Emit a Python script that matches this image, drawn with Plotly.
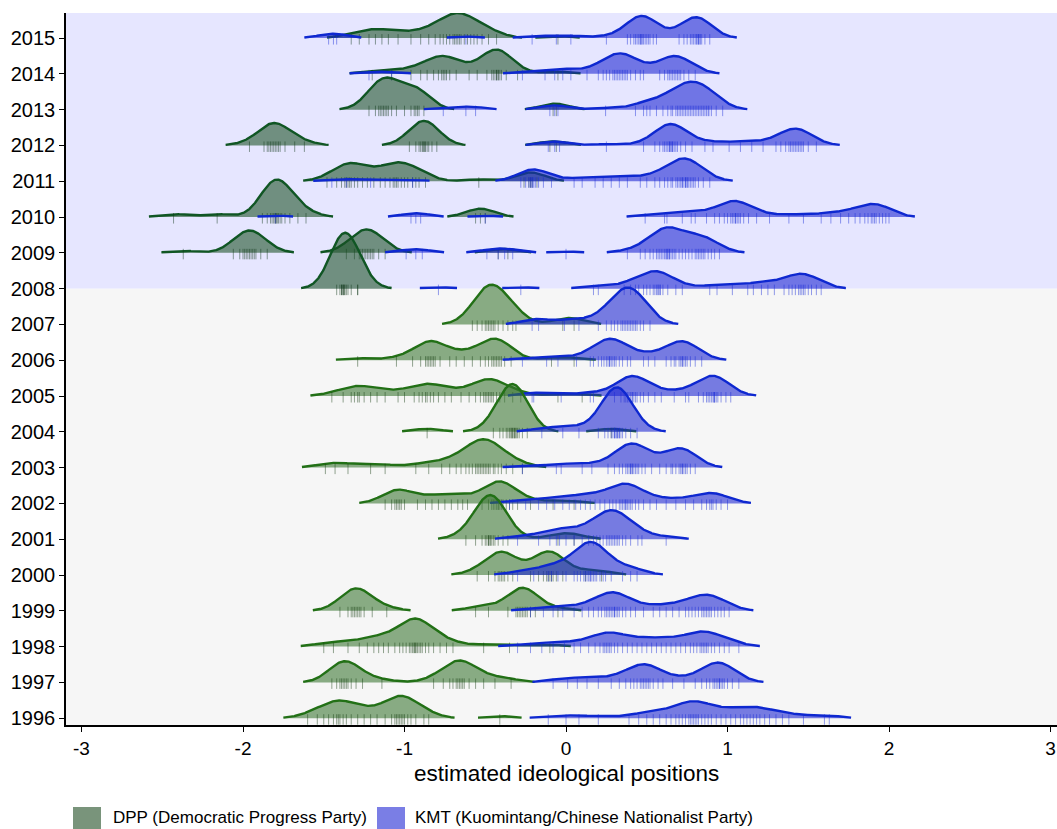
import numpy as np
import plotly.graph_objects as go

# Estimated ideological positions of individual legislators, by year and party
YEARS = list(range(1996, 2016))

dpp_positions = {
    2015: [-1.33, -1.28, -1.22, -1.18, -1.14, -1.10, -1.04, -0.96, -0.90, -0.85, -0.81, -0.78, -0.76,
           -0.74, -0.72, -0.70, -0.69, -0.68, -0.67, -0.66, -0.65, -0.63, -0.61, -0.59, -0.57, -0.55,
           -0.52, -0.48, -0.43, -0.05],
    2014: [-1.20, -1.08, -0.96, -0.90, -0.86, -0.82, -0.79, -0.77, -0.76, -0.75, -0.74, -0.72, -0.68,
           -0.60, -0.55, -0.49, -0.46, -0.45, -0.44, -0.43, -0.43, -0.42, -0.42, -0.41, -0.40, -0.37,
           -0.30, -0.05],
    2013: [-1.22, -1.18, -1.16, -1.15, -1.14, -1.13, -1.12, -1.11, -1.10, -1.08, -1.05, -1.00, -0.96,
           -0.94, -0.93, -0.92, -0.91, -0.88, -0.08, -0.06],
    2012: [-1.96, -1.87, -1.85, -1.84, -1.83, -1.82, -1.81, -1.80, -1.79, -1.78, -1.77, -1.74, -1.68,
           -1.62, -0.97, -0.93, -0.91, -0.90, -0.89, -0.885, -0.88, -0.875, -0.87, -0.86, -0.85, -0.83,
           -0.80, -0.10, -0.06],
    2011: [-1.48, -1.42, -1.39, -1.37, -1.36, -1.35, -1.34, -1.33, -1.31, -1.29, -1.26, -1.23, -1.19,
           -1.15, -1.12, -1.09, -1.07, -1.06, -1.05, -1.04, -1.02, -1.00, -0.98, -0.95, -0.93, -0.91,
           -0.87, -0.54, -0.26, -0.23, -0.22, -0.21, -0.18],
    2010: [-2.43, -2.16, -1.88, -1.85, -1.83, -1.82, -1.81, -1.80, -1.80, -1.79, -1.79, -1.78, -1.77,
           -1.76, -1.74, -1.71, -1.66, -1.61, -0.56, -0.53, -0.50],
    2009: [-2.37, -2.06, -2.02, -2.00, -1.99, -1.98, -1.97, -1.96, -1.95, -1.94, -1.93, -1.92, -1.89,
           -1.85, -1.36, -1.31, -1.28, -1.27, -1.26, -1.25, -1.24, -1.23, -1.22, -1.21, -1.20, -1.19,
           -1.16, -1.12, -0.42, -0.36],
    2008: [-1.42, -1.40, -1.39, -1.39, -1.38, -1.38, -1.38, -1.37, -1.37, -1.36, -1.35, -1.33, -1.29,
           -1.29],
    2007: [-0.58, -0.55, -0.52, -0.50, -0.49, -0.48, -0.47, -0.46, -0.45, -0.44, -0.42, -0.39, -0.36,
           -0.33, -0.31, -0.02, 0.05],
    2006: [-1.29, -1.05, -0.95, -0.90, -0.87, -0.86, -0.85, -0.84, -0.83, -0.82, -0.81, -0.78, -0.72,
           -0.68, -0.63, -0.58, -0.53, -0.50, -0.48, -0.46, -0.45, -0.44, -0.43, -0.42, -0.41, -0.40,
           -0.38, -0.34, -0.09, 0.05],
    2005: [-1.45, -1.38, -1.33, -1.31, -1.29, -1.28, -1.25, -1.21, -1.17, -1.12, -1.04, -1.00, -0.94,
           -0.91, -0.89, -0.87, -0.86, -0.84, -0.82, -0.79, -0.75, -0.71, -0.65, -0.60, -0.56, -0.53,
           -0.51, -0.50, -0.49, -0.48, -0.47, -0.46, -0.45, -0.43, -0.41, -0.38, -0.33, -0.28, -0.05,
           0.10],
    2004: [-0.86, -0.45, -0.41, -0.39, -0.37, -0.36, -0.35, -0.34, -0.34, -0.33, -0.33, -0.32, -0.32,
           -0.31, -0.31, -0.30, -0.29, -0.27, -0.24, 0.28],
    2003: [-1.49, -1.43, -1.35, -1.21, -1.12, -0.93, -0.85, -0.77, -0.72, -0.68, -0.65, -0.62, -0.60,
           -0.58, -0.56, -0.55, -0.54, -0.53, -0.52, -0.51, -0.50, -0.49, -0.48, -0.47, -0.45, -0.44,
           -0.42, -0.40, -0.37, -0.33, -0.27],
    2002: [-1.12, -1.08, -1.06, -1.05, -1.04, -1.03, -1.02, -1.00, -0.92, -0.87, -0.83, -0.79, -0.75,
           -0.71, -0.67, -0.64, -0.61, -0.52, -0.48, -0.46, -0.45, -0.44, -0.43, -0.42, -0.42, -0.41,
           -0.40, -0.39, -0.37, -0.35, -0.33, -0.30, -0.22, -0.08, 0.05],
    2001: [-0.62, -0.56, -0.52, -0.50, -0.49, -0.48, -0.48, -0.47, -0.47, -0.46, -0.45, -0.44, -0.42,
           -0.39, -0.36, -0.05, 0.05],
    2000: [-0.55, -0.48, -0.44, -0.42, -0.41, -0.40, -0.39, -0.38, -0.36, -0.33, -0.22, -0.17, -0.14,
           -0.12, -0.11, -0.10, -0.09, -0.08, -0.06, -0.02, 0.12, 0.22],
    1999: [-1.40, -1.35, -1.33, -1.32, -1.31, -1.30, -1.29, -1.28, -1.27, -1.25, -1.20, -1.11, -0.56,
           -0.48, -0.36, -0.31, -0.30, -0.29, -0.28, -0.27, -0.26, -0.25, -0.24, -0.22, -0.19, -0.05],
    1998: [-1.50, -1.44, -1.35, -1.28, -1.23, -1.19, -1.16, -1.13, -1.10, -1.06, -1.03, -1.01, -0.99,
           -0.97, -0.96, -0.95, -0.94, -0.94, -0.93, -0.93, -0.92, -0.91, -0.90, -0.89, -0.87, -0.85,
           -0.82, -0.78, -0.74, -0.70, -0.51, -0.35, -0.10],
    1997: [-1.45, -1.42, -1.40, -1.39, -1.38, -1.37, -1.36, -1.35, -1.33, -1.30, -1.26, -1.14, -0.82,
           -0.76, -0.72, -0.70, -0.68, -0.67, -0.66, -0.65, -0.64, -0.63, -0.60, -0.56, -0.51, -0.44,
           -0.34],
    1996: [-1.60, -1.54, -1.50, -1.47, -1.44, -1.42, -1.41, -1.40, -1.38, -1.36, -1.33, -1.29, -1.25,
           -1.21, -1.17, -1.12, -1.08, -1.06, -1.05, -1.04, -1.03, -1.02, -1.01, -1.00, -0.98, -0.96,
           -0.93, -0.88, -0.85, -0.41],
}

kmt_positions = {
    2015: [-1.47, -1.44, -1.42, -0.62, -0.21, -0.06, 0.03, 0.25, 0.38, 0.40, 0.42, 0.43, 0.44, 0.45,
           0.46, 0.46, 0.47, 0.47, 0.48, 0.49, 0.50, 0.51, 0.52, 0.54, 0.56, 0.70, 0.73, 0.75, 0.77,
           0.78, 0.79, 0.80, 0.81, 0.81, 0.82, 0.82, 0.83, 0.83, 0.84, 0.86, 0.89],
    2014: [-1.22, -1.08, -0.27, -0.13, -0.07, -0.02, 0.03, 0.13, 0.20, 0.23, 0.25, 0.27, 0.29, 0.30,
           0.31, 0.32, 0.33, 0.34, 0.35, 0.36, 0.37, 0.38, 0.40, 0.43, 0.46, 0.48, 0.58, 0.61, 0.63,
           0.64, 0.65, 0.66, 0.67, 0.68, 0.69, 0.70, 0.71, 0.73, 0.76, 0.80],
    2013: [-0.76, -0.62, -0.56, -0.10, -0.07, -0.05, 0.245, 0.43, 0.48, 0.50, 0.52, 0.56, 0.60, 0.63,
           0.65, 0.66, 0.68, 0.69, 0.70, 0.71, 0.72, 0.73, 0.74, 0.75, 0.76, 0.77, 0.78, 0.79, 0.80,
           0.81, 0.82, 0.83, 0.84, 0.85, 0.86, 0.87, 0.88, 0.885, 0.90, 0.93, 0.97],
    2012: [-0.11, -0.07, -0.04, 0.25, 0.48, 0.55, 0.58, 0.60, 0.61, 0.62, 0.63, 0.64, 0.64, 0.65, 0.65,
           0.66, 0.66, 0.67, 0.68, 0.69, 0.71, 0.74, 0.78, 0.86, 0.91, 1.01, 1.08, 1.15, 1.22, 1.30,
           1.33, 1.36, 1.38, 1.39, 1.40, 1.41, 1.42, 1.43, 1.44, 1.45, 1.46, 1.47, 1.50, 1.55],
    2011: [-1.45, -1.36, -1.21, -0.95, -0.28, -0.25, -0.23, -0.22, -0.21, -0.21, -0.20, -0.19, -0.17,
           -0.14, -0.09, 0.05, 0.10, 0.18, 0.23, 0.28, 0.33, 0.38, 0.46, 0.50, 0.55, 0.58, 0.61, 0.63,
           0.65, 0.66, 0.68, 0.69, 0.70, 0.71, 0.72, 0.72, 0.73, 0.74, 0.74, 0.75, 0.75, 0.76, 0.77,
           0.78, 0.79, 0.80, 0.82, 0.85, 0.89],
    2010: [-1.80, -0.96, -0.93, -0.90, -0.50, 0.49, 0.61, 0.625, 0.72, 0.775, 0.80, 0.87, 0.92, 0.95,
           0.98, 1.00, 1.02, 1.03, 1.04, 1.05, 1.05, 1.06, 1.07, 1.08, 1.10, 1.13, 1.18, 1.26, 1.38,
           1.47, 1.58, 1.64, 1.70, 1.75, 1.79, 1.82, 1.85, 1.87, 1.89, 1.90, 1.91, 1.92, 1.94, 1.96,
           1.98, 2.00],
    2009: [-0.99, -0.93, -0.89, -0.49, -0.42, -0.38, -0.33, 0.0, 0.38, 0.46, 0.49, 0.52, 0.54, 0.56,
           0.57, 0.58, 0.59, 0.60, 0.61, 0.62, 0.62, 0.63, 0.63, 0.64, 0.64, 0.65, 0.66, 0.67, 0.68,
           0.70, 0.72, 0.74, 0.76, 0.78, 0.80, 0.81, 0.82, 0.83, 0.84, 0.85, 0.86, 0.88, 0.90, 0.92,
           0.95],
    2008: [-0.79, -0.28, 0.17, 0.20, 0.36, 0.40, 0.43, 0.45, 0.48, 0.50, 0.52, 0.54, 0.55, 0.56, 0.57,
           0.57, 0.58, 0.585, 0.60, 0.63, 0.68, 0.72, 0.89, 0.935, 1.03, 1.125, 1.16, 1.21, 1.25, 1.29,
           1.35, 1.38, 1.40, 1.42, 1.44, 1.45, 1.46, 1.47, 1.48, 1.50, 1.52, 1.55, 1.58],
    2007: [-0.21, -0.17, -0.01, 0.08, 0.20, 0.25, 0.28, 0.30, 0.32, 0.34, 0.35, 0.36, 0.37, 0.38, 0.39,
           0.40, 0.41, 0.42, 0.43, 0.44, 0.46, 0.48, 0.52],
    2006: [-0.27, -0.12, -0.05, 0.065, 0.15, 0.17, 0.20, 0.22, 0.235, 0.25, 0.26, 0.27, 0.27, 0.28,
           0.29, 0.30, 0.31, 0.33, 0.35, 0.38, 0.40, 0.48, 0.51, 0.55, 0.62, 0.65, 0.67, 0.68, 0.70,
           0.71, 0.72, 0.72, 0.73, 0.74, 0.75, 0.77, 0.80, 0.84],
    2005: [-0.21, -0.20, -0.03, 0.15, 0.17, 0.30, 0.34, 0.36, 0.37, 0.38, 0.39, 0.40, 0.41, 0.41, 0.42,
           0.43, 0.44, 0.46, 0.48, 0.51, 0.55, 0.59, 0.67, 0.74, 0.76, 0.82, 0.85, 0.87, 0.88, 0.89,
           0.90, 0.91, 0.915, 0.92, 0.92, 0.93, 0.94, 0.96, 0.99, 1.02],
    2004: [-0.15, -0.02, 0.08, 0.20, 0.24, 0.26, 0.28, 0.29, 0.30, 0.30, 0.31, 0.31, 0.32, 0.32, 0.33,
           0.33, 0.34, 0.35, 0.37, 0.40, 0.44],
    2003: [-0.27, -0.06, -0.03, 0.10, 0.16, 0.26, 0.30, 0.33, 0.35, 0.37, 0.38, 0.39, 0.40, 0.40, 0.41,
           0.41, 0.42, 0.43, 0.44, 0.45, 0.47, 0.49, 0.53, 0.58, 0.62, 0.65, 0.66, 0.68, 0.70, 0.71,
           0.72, 0.72, 0.73, 0.74, 0.75, 0.77, 0.80],
    2002: [-0.35, -0.25, -0.17, -0.12, -0.07, -0.02, 0.02, 0.06, 0.09, 0.12, 0.15, 0.18, 0.21, 0.24,
           0.27, 0.29, 0.31, 0.33, 0.34, 0.35, 0.36, 0.37, 0.37, 0.38, 0.39, 0.40, 0.41, 0.43, 0.45,
           0.48, 0.52, 0.56, 0.62, 0.68, 0.74, 0.79, 0.84, 0.87, 0.89, 0.90, 0.91, 0.93, 0.96, 1.00],
    2001: [-0.30, -0.17, -0.10, -0.06, -0.04, 0.0, 0.05, 0.10, 0.14, 0.17, 0.19, 0.21, 0.23, 0.25, 0.26,
           0.27, 0.28, 0.29, 0.30, 0.31, 0.32, 0.33, 0.35, 0.37, 0.40, 0.445, 0.47, 0.62],
    2000: [-0.30, -0.20, -0.11, -0.09, -0.05, 0.0, 0.05, 0.07, 0.09, 0.11, 0.12, 0.13, 0.14, 0.15, 0.15,
           0.16, 0.17, 0.18, 0.19, 0.21, 0.23, 0.245, 0.28, 0.35, 0.40, 0.44],
    1999: [-0.22, -0.14, -0.08, -0.02, 0.05, 0.10, 0.14, 0.17, 0.20, 0.22, 0.24, 0.25, 0.26, 0.27, 0.28,
           0.29, 0.30, 0.30, 0.31, 0.32, 0.33, 0.35, 0.37, 0.40, 0.43, 0.48, 0.54, 0.58, 0.62, 0.66,
           0.70, 0.74, 0.76, 0.78, 0.80, 0.82, 0.84, 0.85, 0.86, 0.87, 0.88, 0.89, 0.90, 0.92, 0.94,
           0.96, 0.98, 1.01],
    1998: [-0.30, -0.22, -0.15, -0.08, -0.01, 0.05, 0.09, 0.14, 0.18, 0.21, 0.23, 0.24, 0.25, 0.26,
           0.27, 0.28, 0.30, 0.32, 0.35, 0.38, 0.41, 0.44, 0.47, 0.50, 0.53, 0.56, 0.59, 0.62, 0.65,
           0.68, 0.71, 0.74, 0.77, 0.79, 0.81, 0.83, 0.84, 0.85, 0.86, 0.87, 0.88, 0.90, 0.92, 0.95,
           0.98, 1.01, 1.07],
    1997: [-0.08, 0.01, 0.07, 0.13, 0.20, 0.28, 0.33, 0.37, 0.40, 0.42, 0.44, 0.46, 0.47, 0.48, 0.49,
           0.50, 0.51, 0.52, 0.54, 0.57, 0.60, 0.66, 0.73, 0.80, 0.84, 0.87, 0.89, 0.91, 0.92, 0.93,
           0.94, 0.95, 0.95, 0.96, 0.97, 0.98, 1.00, 1.03, 1.07],
    1996: [-0.11, 0.0, 0.08, 0.20, 0.39, 0.45, 0.50, 0.54, 0.58, 0.62, 0.65, 0.68, 0.70, 0.72, 0.74,
           0.76, 0.77, 0.78, 0.79, 0.80, 0.81, 0.82, 0.84, 0.86, 0.88, 0.90, 0.93, 0.96, 0.99, 1.02,
           1.05, 1.08, 1.10, 1.12, 1.14, 1.16, 1.18, 1.20, 1.23, 1.26, 1.30, 1.34, 1.38, 1.47, 1.60,
           1.63],
}

X_TICKS = [-3, -2, -1, 0, 1, 2, 3]
PARTY_LABELS = ["DPP (Democratic Progress Party)", "KMT (Kuomintang/Chinese Nationalist Party)"]
X_TITLE = "estimated ideological positions"

# Ridge construction settings (Gaussian KDE with a joint bandwidth)
BANDWIDTH = 0.085
REL_MIN_HEIGHT = 0.01
RIDGE_SCALE = 1.56
X_RANGE = [-3.096, 3.04]
Y_RANGE = [1995.81, 2015.70]

GREEN_LATE = dict(line="rgb(16,86,36)", fill="rgba(26,80,36,0.58)", rug="rgba(10,50,20,0.45)")
GREEN_EARLY = dict(line="rgb(34,112,22)", fill="rgba(56,118,48,0.58)", rug="rgba(20,60,15,0.45)")
BLUE = dict(line="rgb(14,40,208)", fill="rgba(26,34,210,0.58)", rug="rgba(20,40,215,0.45)")
KEY_COLORS = ["rgb(121,148,123)", "rgb(122,126,229)"]

grid = np.linspace(-3.2, 3.2, 2561)


def kde(values):
    v = np.asarray(values, dtype=float)[:, None]
    z = (grid[None, :] - v) / BANDWIDTH
    return np.exp(-0.5 * z ** 2).sum(axis=0) / (len(values) * BANDWIDTH * np.sqrt(2 * np.pi))


densities = {}
for yr in YEARS:
    densities[(yr, "DPP")] = kde(dpp_positions[yr])
    densities[(yr, "KMT")] = kde(kmt_positions[yr])
global_max = max(d.max() for d in densities.values())
cutoff = REL_MIN_HEIGHT * global_max


def segments(mask):
    idx = np.flatnonzero(mask)
    if idx.size == 0:
        return []
    breaks = np.flatnonzero(np.diff(idx) > 1)
    starts = np.concatenate([[idx[0]], idx[breaks + 1]])
    ends = np.concatenate([idx[breaks], [idx[-1]]])
    return list(zip(starts, ends))


fig = go.Figure()

# ridges are drawn from the top row down so lower rows overlap the ones above
for yr in sorted(YEARS, reverse=True):
    for party, values in (("DPP", dpp_positions[yr]), ("KMT", kmt_positions[yr])):
        if party == "DPP":
            style = GREEN_LATE if yr >= 2008 else GREEN_EARLY
        else:
            style = BLUE
        d = densities[(yr, party)]
        h = d / global_max * RIDGE_SCALE
        for s, e in segments(d >= cutoff):
            xs = grid[s:e + 1]
            ys = yr + h[s:e + 1]
            fig.add_trace(go.Scatter(
                x=np.concatenate([xs, xs[::-1]]),
                y=np.concatenate([ys, np.full(xs.size, yr)]),
                mode="lines", fill="toself", fillcolor=style["fill"],
                line=dict(width=0), hoverinfo="skip", showlegend=False))
            fig.add_trace(go.Scatter(
                x=xs, y=ys, mode="lines",
                line=dict(color=style["line"], width=2.4),
                hoverinfo="skip", showlegend=False))
        fig.add_trace(go.Scatter(
            x=values, y=[yr - 0.035] * len(values), mode="markers",
            marker=dict(symbol="line-ns", size=7.5,
                        line=dict(color=style["rug"], width=1)),
            hoverinfo="skip", showlegend=False))

# period backgrounds
fig.add_shape(type="rect", xref="paper", yref="y", x0=0, x1=1, y0=2008, y1=Y_RANGE[1],
              fillcolor="#E6E6FF", line_width=0, layer="below")
fig.add_shape(type="rect", xref="paper", yref="y", x0=0, x1=1, y0=Y_RANGE[0], y1=2008,
              fillcolor="#F6F6F6", line_width=0, layer="below")

# plot area spans x 66..1057 px and y 13..725 px
PLOT_L, PLOT_W, PLOT_B, PLOT_H = 66, 991, 725, 712


def px_x(px):
    return (px - PLOT_L) / PLOT_W


def px_y(py):
    return (PLOT_B - py) / PLOT_H


FONT = "Arial, Liberation Sans, sans-serif"

# legend (keys + labels)
legend_items = [(73, 101, 111), (377, 405, 413)]
for (k0, k1, tx), label, col in zip(legend_items, PARTY_LABELS, KEY_COLORS):
    fig.add_shape(type="rect", xref="paper", yref="paper",
                  x0=px_x(k0), x1=px_x(k1), y0=px_y(835), y1=px_y(807),
                  fillcolor=col, line_width=0)
    fig.add_annotation(xref="paper", yref="paper", x=px_x(tx), y=px_y(817),
                       xanchor="left", yanchor="middle", showarrow=False,
                       text=label, font=dict(size=17, family=FONT, color="black"))

# x-axis title
fig.add_annotation(xref="paper", yref="paper", x=px_x(566), y=px_y(773),
                   xanchor="center", yanchor="middle", showarrow=False,
                   text=X_TITLE, font=dict(size=22.5, family=FONT, color="black"))

fig.update_layout(
    width=1057, height=829,
    margin=dict(l=PLOT_L, r=0, t=13, b=829 - PLOT_B),
    paper_bgcolor="white", plot_bgcolor="white",
    font=dict(family=FONT, color="black"),
    showlegend=False,
    xaxis=dict(range=X_RANGE, tickvals=X_TICKS, ticktext=[str(t) for t in X_TICKS],
               showgrid=False, zeroline=False, showline=True, linecolor="black", linewidth=1.5,
               ticks="outside", ticklen=5, tickcolor="black", tickwidth=1.2,
               tickfont=dict(size=19, color="black")),
    yaxis=dict(range=Y_RANGE, tickvals=YEARS, ticktext=[str(y) for y in YEARS],
               showgrid=False, zeroline=False, showline=True, linecolor="black", linewidth=1.5,
               ticks="outside", ticklen=5, tickcolor="black", tickwidth=1.2,
               tickfont=dict(size=20, color="black")),
)

fig.write_html("out.html")
